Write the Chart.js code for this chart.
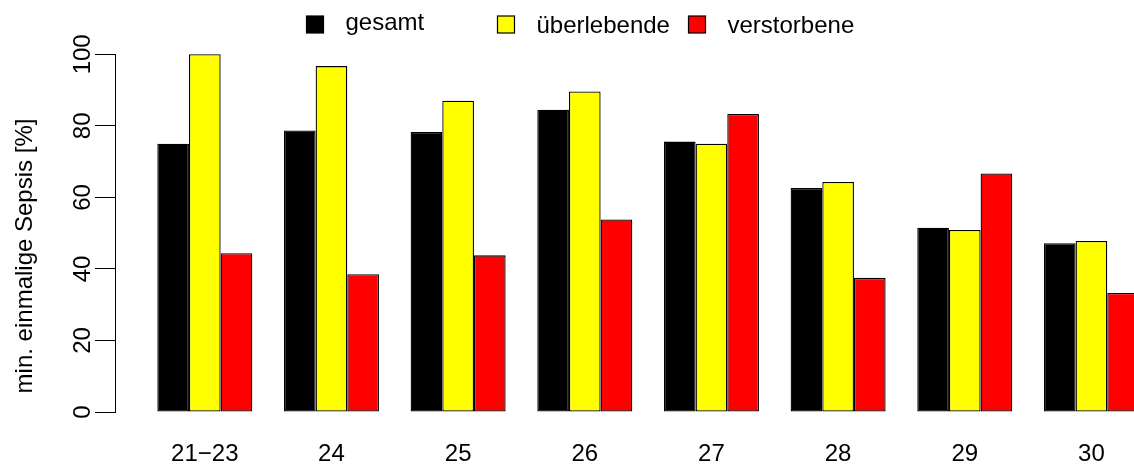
<!DOCTYPE html>
<html>
<head>
<meta charset="utf-8">
<script src="https://cdn.jsdelivr.net/npm/chart.js@4/dist/chart.umd.min.js"></script>
<style>
  html, body { margin: 0; padding: 0; background: #fff; overflow: hidden; }
  #wrap { position: relative; width: 1134px; height: 468px; }
</style>
</head>
<body>
<div id="wrap"><canvas id="c"></canvas></div>
<script>
const categories = ['21\u221223', '24', '25', '26', '27', '28', '29', '30'];
const seriesNames = ['gesamt', '\u00fcberlebende', 'verstorbene'];
const gesamt      = [75.0, 78.7, 78.3, 84.5, 75.6, 62.6, 51.5, 47.2];
const ueberlebende = [100.0, 96.7, 87.0, 89.6, 75.0, 64.3, 50.9, 47.8];
const verstorbene = [44.4, 38.5, 43.8, 53.8, 83.3, 37.5, 66.7, 33.3];
const yTicks = [0, 20, 40, 60, 80, 100];
const yTitle = 'min. einmalige Sepsis [%]';

const colors = ['#000000', '#ffff00', '#ff0000'];
const FONT = '"Liberation Sans", Arial, Helvetica, sans-serif';

const toXY = arr => arr.map((v, i) => ({ x: i, y: v }));

const extras = {
  id: 'extras',
  afterDraw(chart) {
    const ctx = chart.ctx;
    // y axis title
    ctx.save();
    ctx.fillStyle = '#000';
    ctx.font = '24px ' + FONT;
    ctx.translate(31.5, 256);
    ctx.rotate(-Math.PI / 2);
    ctx.textAlign = 'center';
    ctx.textBaseline = 'alphabetic';
    ctx.fillText(yTitle, 0, 0);
    ctx.restore();
    // legend (R-style horizontal legend, equal column widths)
    ctx.save();
    ctx.font = '24px ' + FONT;
    ctx.textAlign = 'left';
    ctx.textBaseline = 'alphabetic';
    chart.data.datasets.forEach((ds, i) => {
      const bx = 306.5 + i * 191;
      const cy = 24.5;
      ctx.fillStyle = ds.backgroundColor;
      ctx.fillRect(bx, cy - 8.5, 17, 17);
      ctx.strokeStyle = '#000';
      ctx.lineWidth = 1.2;
      ctx.strokeRect(bx, cy - 8.5, 17, 17);
      const m = ctx.measureText(ds.label);
      const base = cy + (m.actualBoundingBoxAscent - m.actualBoundingBoxDescent) / 2;
      ctx.fillStyle = '#000';
      ctx.fillText(ds.label, bx + 39, base);
    });
    ctx.restore();
  }
};

new Chart(document.getElementById('c'), {
  type: 'bar',
  data: {
    datasets: [
      { label: seriesNames[0], data: toXY(gesamt), backgroundColor: colors[0] },
      { label: seriesNames[1], data: toXY(ueberlebende), backgroundColor: colors[1] },
      { label: seriesNames[2], data: toXY(verstorbene), backgroundColor: colors[2] }
    ].map(d => Object.assign(d, {
      borderColor: '#000', borderWidth: 1.3, borderSkipped: false,
      barPercentage: 1.0, categoryPercentage: 0.75, clip: false
    }))
  },
  options: {
    responsive: true,
    maintainAspectRatio: false,
    animation: false,
    layout: { padding: { left: 0, right: 0, top: 54.3, bottom: 0 } },
    plugins: { legend: { display: false }, tooltip: { enabled: false }, title: { display: false } },
    scales: {
      x: {
        type: 'linear',
        offset: false,
        min: -0.709,
        max: 7.336,
        grid: { display: false, drawTicks: false, offset: false },
        border: { display: false },
        ticks: {
          autoSkip: false, maxRotation: 0, minRotation: 0,
          padding: 28,
          color: '#000',
          font: { family: FONT, size: 24 },
          callback: v => categories[v]
        },
        afterBuildTicks: s => { s.ticks = categories.map((_, i) => ({ value: i })); },
        afterFit: s => { s.height = 56; s.paddingLeft = 0; s.paddingRight = 0; }
      },
      y: {
        min: 0,
        max: 100,
        grid: { display: true, drawOnChartArea: false, drawTicks: true, tickLength: 20, color: '#000', lineWidth: 1 },
        border: { display: true, color: '#000', width: 1 },
        ticks: {
          color: '#000',
          font: { family: FONT, size: 24 },
          minRotation: 90, maxRotation: 90,
          crossAlign: 'center',
          padding: -8
        },
        afterBuildTicks: s => { s.ticks = yTicks.map(v => ({ value: v })); },
        afterFit: s => { s.width = 115; s.paddingTop = 0; s.paddingBottom = 0; }
      }
    }
  },
  plugins: [extras]
});
</script>
</body>
</html>
